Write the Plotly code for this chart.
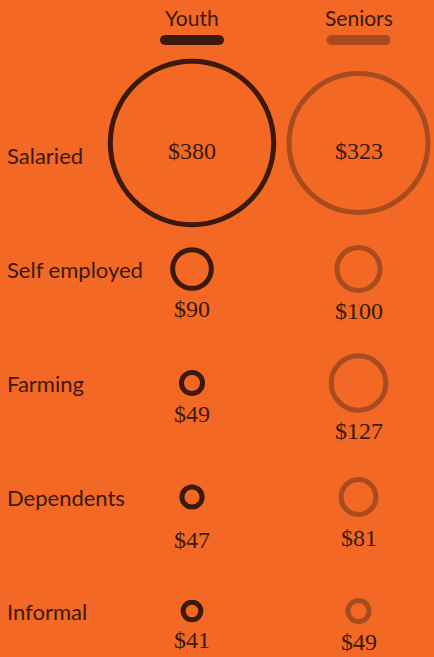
import plotly.graph_objects as go

# ---- data ----
categories = ["Salaried", "Self employed", "Farming", "Dependents", "Informal"]
groups = ["Youth", "Seniors"]
youth = [380, 90, 49, 47, 41]
seniors = [323, 100, 127, 81, 49]
series = [youth, seniors]

# ---- style / layout ----
W, H = 434, 657
BG = "#F26824"
COLORS = ["#3B1A0A", "#A84B1E"]
TEXT = "#3B1A0A"
K = 0.43          # marker diameter px per dollar
LW = 5            # ring stroke
SANS = "Lato, 'Open Sans', sans-serif"
SERIF = "'Liberation Serif', 'DejaVu Serif', serif"

col_px = [192, 358.5]
row_px0, row_step = 155, 114
x_scale = col_px[1] - col_px[0]
x_range = [-col_px[0] / x_scale, (W - col_px[0]) / x_scale]
y_range = [(H - row_px0) / row_step, -row_px0 / row_step]

def row_units(px):
    return (px - row_px0) / row_step

circle_lift = [-12 / row_step, 0, 0, 0, 0]      # big first-row circles sit higher
label_gap = 18
extra_gap = [[0, 0, 0, 12, 0], [0, 0, 0, 3, 0]]

fig = go.Figure()
annotations = []
shapes = []

for g, (name, vals) in enumerate(zip(groups, series)):
    fig.add_trace(go.Scatter(
        x=[g] * len(vals),
        y=[i + circle_lift[i] for i in range(len(vals))],
        mode="markers",
        marker=dict(
            size=vals, sizemode="diameter", sizeref=1 / K, opacity=1,
            color="rgba(0,0,0,0)",
            line=dict(color=COLORS[g], width=LW),
        ),
        name=name, showlegend=False, hoverinfo="skip",
    ))
    for i, v in enumerate(vals):
        r = (v * K + LW) / 2
        if i == 0:
            ys = 4
        else:
            ys = -(r + label_gap + extra_gap[g][i])
        annotations.append(dict(
            x=g, y=i, xref="x", yref="y", text=f"${v}", showarrow=False,
            yshift=ys, font=dict(family=SERIF, size=24, color=TEXT),
        ))
    # header
    annotations.append(dict(
        x=g, y=row_units(17), xref="x", yref="y", text=name, showarrow=False,
        font=dict(family=SANS, size=21, color=TEXT),
    ))
    # rounded legend bar
    hw, hh, c = 27, 5, 6.7
    path = (f"M {-hw},{-hh} L {hw},{-hh} C {hw + c},{-hh} {hw + c},{hh} {hw},{hh} "
            f"L {-hw},{hh} C {-hw - c},{hh} {-hw - c},{-hh} {-hw},{-hh} Z")
    shapes.append(dict(
        type="path", path=path, xref="x", yref="y",
        xsizemode="pixel", ysizemode="pixel", xanchor=g, yanchor=row_units(40),
        fillcolor=COLORS[g], line=dict(width=0),
    ))

for i, cat in enumerate(categories):
    annotations.append(dict(
        x=5 / W, y=i, xref="paper", yref="y", text=cat, showarrow=False,
        xanchor="left", font=dict(family=SANS, size=22, color=TEXT),
    ))

fig.update_layout(
    width=W, height=H,
    margin=dict(l=0, r=0, t=0, b=0),
    paper_bgcolor=BG, plot_bgcolor=BG,
    xaxis=dict(range=x_range, visible=False, fixedrange=True),
    yaxis=dict(range=y_range, visible=False, fixedrange=True),
    annotations=annotations, shapes=shapes,
)

fig.write_html(
    "out.html",
    config={"displayModeBar": False},
    post_script="document.body.style.margin='0';document.body.style.overflow='hidden';",
)
